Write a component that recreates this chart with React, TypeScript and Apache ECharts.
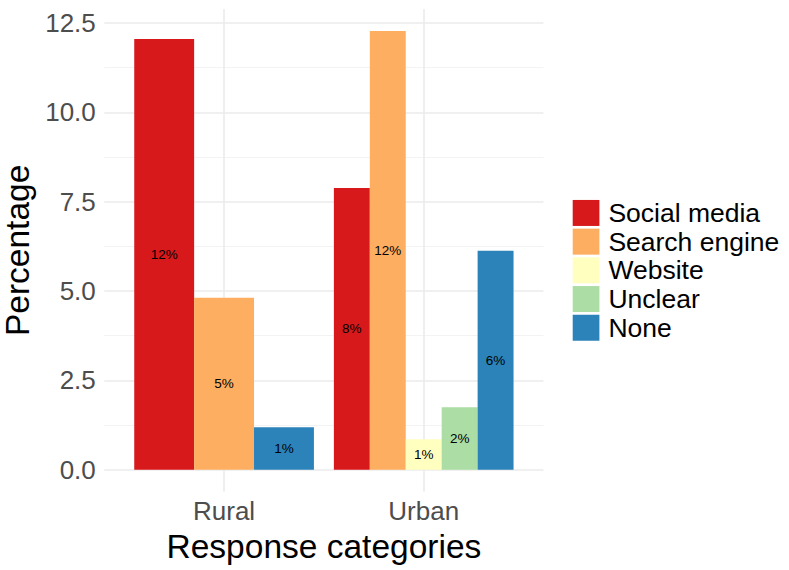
import React, { useEffect, useRef } from "react";
import * as echarts from "echarts";

// Categories on the x axis and the response types (legend order)
const categories = ["Rural", "Urban"];
const responseTypes = ["Social media", "Search engine", "Website", "Unclear", "None"];

// Percentage per category (null = response not present in that category)
const socialMedia = [12.05, 7.88];
const searchEngine = [4.81, 12.28];
const website = [null, 0.85];
const unclear = [null, 1.75];
const none = [1.19, 6.13];

const majorTicks = [0, 2.5, 5, 7.5, 10, 12.5];
const minorTicks = [1.25, 3.75, 6.25, 8.75, 11.25];

const palette = ["#D7191C", "#FDAE61", "#FFFFBF", "#ABDDA4", "#2B83BA"];

const FONT = "'Liberation Sans', Arial, Helvetica, sans-serif";

function buildOption() {
  const valuesByType: (number | null)[][] = [socialMedia, searchEngine, website, unclear, none];

  // dodge: for each category, the slot index of each present bar and the bar count
  const slot: number[][] = valuesByType.map(() => []);
  const count: number[] = categories.map((_, ci) => {
    let k = 0;
    valuesByType.forEach((vals, si) => {
      if (vals[ci] != null) {
        slot[si][ci] = k;
        k += 1;
      }
    });
    return k;
  });

  const series = valuesByType.map((vals, si) => {
    const data: number[][] = [];
    vals.forEach((v, ci) => {
      if (v != null) data.push([ci + 1, v, slot[si][ci], count[ci]]);
    });
    const color = palette[si];
    return {
      type: "custom",
      name: responseTypes[si],
      itemStyle: { color },
      encode: { x: 0, y: 1 },
      data,
      renderItem: (_params: any, api: any) => {
        const x = api.value(0);
        const y = api.value(1);
        const k = api.value(2);
        const n = api.value(3);
        const w = 0.9 / n;
        const left = x - 0.45 + k * w;
        const p0 = api.coord([left, y]);
        const p1 = api.coord([left + w, 0]);
        return {
          type: "group",
          children: [
            {
              type: "rect",
              shape: { x: p0[0], y: p0[1], width: p1[0] - p0[0], height: p1[1] - p0[1] },
              style: { fill: color },
            },
            {
              type: "text",
              x: (p0[0] + p1[0]) / 2,
              y: (p0[1] + p1[1]) / 2,
              style: {
                text: Math.round(y) + "%",
                fill: "#000000",
                fontSize: 13.5,
                fontFamily: FONT,
                align: "center",
                verticalAlign: "middle",
              },
            },
          ],
        };
      },
    };
  });

  const yMin = -0.614;
  const yMax = 12.89;

  return {
    animation: false,
    backgroundColor: "#ffffff",
    textStyle: { fontFamily: FONT },
    grid: {
      left: 104.3,
      right: 245.5,
      top: 9.1,
      bottom: 78.4,
      containLabel: false,
      outerBoundsMode: "none",
    },
    legend: {
      orient: "vertical",
      left: 572.7,
      top: 198.6,
      padding: 0,
      itemGap: 0,
      itemWidth: 26.7,
      itemHeight: 26,
      icon: "rect",
      data: responseTypes,
      textStyle: {
        fontSize: 26.5,
        lineHeight: 28.7,
        color: "#000000",
        fontFamily: FONT,
        padding: [0, 0, 0, 4],
      },
    },
    xAxis: {
      type: "value",
      min: 0.4,
      max: 2.6,
      name: "Response categories",
      nameLocation: "middle",
      nameGap: 32,
      nameTextStyle: { fontSize: 33.5, color: "#000000", fontFamily: FONT },
      axisLine: { show: false, onZero: false },
      axisTick: { show: false, customValues: [1, 2] },
      axisLabel: {
        customValues: [1, 2],
        formatter: (v: number) => categories[Math.round(v) - 1] ?? "",
        fontSize: 26,
        color: "#4D4D4D",
        margin: 6.5,
        fontFamily: FONT,
      },
      splitLine: { show: true, lineStyle: { color: "#EBEBEB", width: 1.6 } },
    },
    yAxis: [
      {
        type: "value",
        min: yMin,
        max: yMax,
        name: "Percentage",
        nameLocation: "middle",
        nameGap: 64,
        nameTextStyle: { fontSize: 33.5, color: "#000000", fontFamily: FONT },
        axisLine: { show: false },
        axisTick: { show: false, customValues: majorTicks },
        axisLabel: {
          customValues: majorTicks,
          formatter: (v: number) => v.toFixed(1),
          fontSize: 26,
          color: "#4D4D4D",
          margin: 8.5,
          fontFamily: FONT,
        },
        splitLine: { show: true, lineStyle: { color: "#EBEBEB", width: 1.6 } },
        z: 1,
      },
      {
        type: "value",
        min: yMin,
        max: yMax,
        position: "left",
        axisLine: { show: false },
        axisTick: { show: false, customValues: minorTicks },
        axisLabel: { show: false, customValues: minorTicks },
        splitLine: { show: true, lineStyle: { color: "#F2F2F2", width: 0.9 } },
        z: 0,
      },
    ],
    series,
  };
}

export default function App() {
  const ref = useRef<HTMLDivElement>(null);

  useEffect(() => {
    if (!ref.current) return;
    const chart = echarts.init(ref.current, undefined, { renderer: "svg" });
    chart.setOption(buildOption() as any);
    return () => chart.dispose();
  }, []);

  return (
    <div
      ref={ref}
      style={{ position: "fixed", left: 0, top: 0, width: 789, height: 570, background: "#ffffff" }}
    />
  );
}
